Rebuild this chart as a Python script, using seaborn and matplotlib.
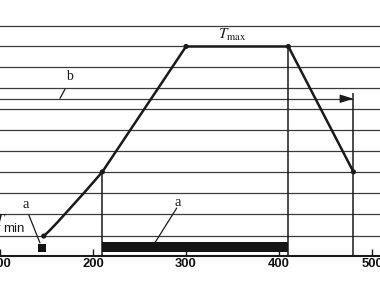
import matplotlib
matplotlib.use("Agg")
import matplotlib.pyplot as plt
import seaborn as sns
import pandas as pd

# ---- data ----
curve_time = [147, 153, 162, 175, 192, 210, 300, 410, 480]
curve_temp = [0.93, 1.18, 1.6, 2.24, 3.08, 4.0, 10.0, 10.0, 4.0]
key_time = [147, 210, 300, 410, 480]
key_temp = [0.93, 4.0, 10.0, 10.0, 4.0]
grid_levels = [0.93, 2, 3, 4, 5, 6, 7, 8, 9, 10, 11]
vline_x = [210, 410, 480]
vline_top = [4.0, 10.0, 7.78]
b_level = 7.5
b_start, b_end = 94, 480
bar_start, bar_end = 210, 410
bar_low, bar_high = 0.17, 0.65
square_x, square_y = [145], [0.36]
xtick_values = [100, 200, 300, 400, 500]
xtick_labels = ["100", "200", "300", "400", "500"]

sns.set_theme(style="white")
plt.rcParams["font.family"] = ["Liberation Serif", "DejaVu Serif"]
plt.rcParams["mathtext.fontset"] = "stix"

fig = plt.figure(figsize=(3.8, 2.82), dpi=100)
ax = fig.add_axes([-0.01468, 0.09397, 1.0231, 0.9339])
ax.set_xlim(94, 512)
ax.set_ylim(0, 12.6)

line_col = "#1a1a1a"
grid_col = "#3a3a3a"

for lv in grid_levels:
    ax.axhline(lv, color=grid_col, lw=0.9, zorder=1)

# arrow line b
ax.hlines(b_level, b_start, b_end, color=grid_col, lw=0.9, zorder=2)
ax.annotate("", xy=(b_end, b_level), xytext=(b_end - 14, b_level),
            arrowprops=dict(arrowstyle="-|>,head_length=0.8,head_width=0.25",
                            color=line_col, lw=0.9, mutation_scale=10,
                            shrinkA=0, shrinkB=0), zorder=3)

ax.vlines(vline_x, 0, vline_top, color=line_col, lw=1.1, zorder=2)

# bar a
ax.broken_barh([(bar_start, bar_end - bar_start)], (bar_low, bar_high - bar_low),
               facecolor="#151515", edgecolor="none", zorder=2)

df = pd.DataFrame({"t": curve_time, "T": curve_temp})
sns.lineplot(data=df, x="t", y="T", sort=False, estimator=None,
             color=line_col, lw=1.8, ax=ax, zorder=3)
kdf = pd.DataFrame({"t": key_time, "T": key_temp})
sns.scatterplot(data=kdf, x="t", y="T", color=line_col, s=14,
                edgecolor="none", ax=ax, zorder=4)
sdf = pd.DataFrame({"t": square_x, "T": square_y})
sns.scatterplot(data=sdf, x="t", y="T", marker="s", color="#111111", s=34,
                edgecolor="none", ax=ax, zorder=4)

# annotations
ax.text(349.5, 10.55, r"$T_{\rm max}$", fontsize=11, ha="center", va="center",
        color=line_col)
ax.text(107.5, 1.6, r"$T$", fontsize=12, ha="right", va="center",
        color=line_col)
ax.text(103.2, 1.27, "min", fontsize=9.5, ha="left", va="center",
        color=line_col, fontfamily="Liberation Sans")
ax.text(128, 2.45, "a", fontsize=10.5, ha="center", va="center", color=line_col)
ax.plot([131, 143], [1.94, 0.6], color=line_col, lw=0.9)
ax.text(291.4, 2.55, "a", fontsize=10.5, ha="center", va="center", color=line_col)
ax.plot([290, 266.7], [2.27, 0.62], color=line_col, lw=0.9)
ax.text(175, 8.55, "b", fontsize=10, ha="center", va="center", color=line_col)
ax.plot([170, 164.5], [7.97, 7.52], color=line_col, lw=0.9)

for s in ["top", "left", "right"]:
    ax.spines[s].set_visible(False)
ax.spines["bottom"].set_color(line_col)
ax.spines["bottom"].set_linewidth(1.5)
ax.set_xticks(xtick_values)
ax.set_xticklabels(xtick_labels, fontfamily="Liberation Sans", fontweight="bold",
                   fontsize=9.4, color="#111111")
ax.set_yticks([])
ax.tick_params(axis="x", direction="in", length=5, width=1, color=line_col, pad=2,
               bottom=True)
ax.set_xlabel("")
ax.set_ylabel("")

fig.savefig("out.png", dpi=100)
